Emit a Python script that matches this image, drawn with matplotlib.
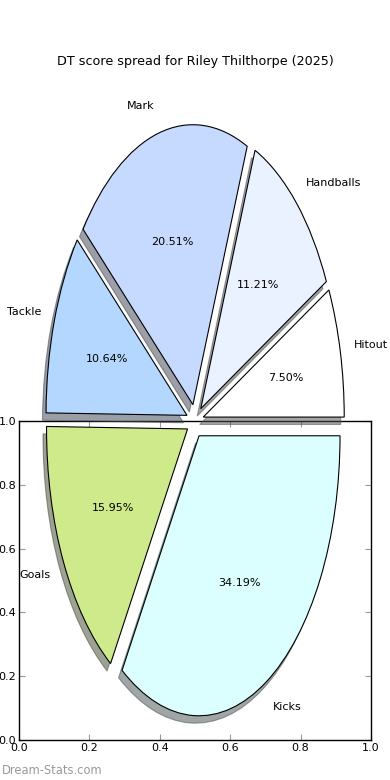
import numpy as np
from matplotlib import pyplot as plt

# DT score share per stat (percent of total)
labels = ['Hitout', 'Handballs', 'Mark', 'Tackle', 'Goals', 'Kicks']
share = [7.50, 11.21, 20.51, 10.64, 15.95, 34.19]
colours = ['#ffffff', '#eaf2ff', '#c6d9ff', '#b4d7ff', '#cfea8b', '#dbffff']
explode = [0.06] * len(labels)

fig = plt.figure(figsize=(3.9, 7.8), dpi=100)

# the plain 0-1 frame underneath
ax0 = fig.add_axes([19 / 390, 40 / 780, 352 / 390, 319 / 780])
ax0.set_xlim(0, 1)
ax0.set_ylim(0, 1)
ax0.set_xticks(np.arange(0, 1.01, 0.2))
ax0.set_yticks(np.arange(0, 1.01, 0.2))
ax0.tick_params(direction='in', length=4, width=0.8, color='#999999',
                top=True, right=True, labelsize=8, pad=2)
for sp in ax0.spines.values():
    sp.set_linewidth(1.0)

# pie on a stretched axes over the whole figure
ax = fig.add_axes([0, 0, 1, 1])
wedges, texts, autotexts = ax.pie(share, labels=labels, colors=colours, explode=explode,
                                  autopct='%1.2f%%', shadow={'ox': -0.018, 'oy': -0.019},
                                  startangle=0,
                                  wedgeprops={'edgecolor': 'black', 'linewidth': 0.8},
                                  textprops={'fontsize': 8})
ax.set_aspect('auto')
rx = 141.0
ry = 280.0
ax.set_xlim(-195 / rx, 195 / rx)
ax.set_ylim(-359 / ry, 421 / ry)
ax.set_frame_on(False)
ax.set_xticks([])
ax.set_yticks([])

fig.text(0.5, 1 - 61 / 780, 'DT score spread for Riley Thilthorpe (2025)',
         ha='center', va='center', fontsize=9.2)
fig.text(2 / 390, 1 - 770 / 780, 'Dream-Stats.com', ha='left', va='center',
         fontsize=8.3, color='#999999')

plt.savefig('out.png', dpi=100)
